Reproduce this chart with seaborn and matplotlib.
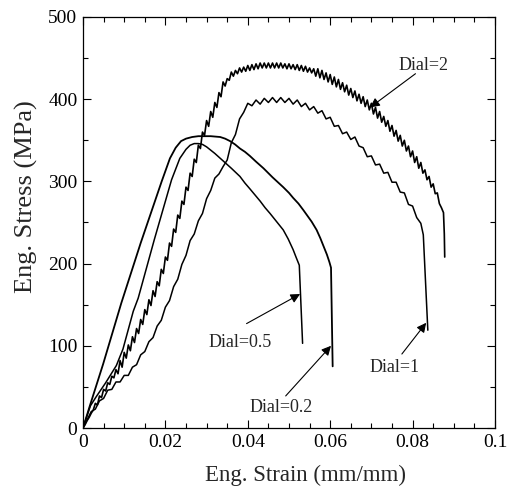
import matplotlib
matplotlib.use("Agg")
import matplotlib.pyplot as plt
from matplotlib.ticker import MultipleLocator
import seaborn as sns

# --- data (strain in mm/mm, stress in MPa) ---
strain_d02 = [0.0, 0.0016, 0.0049, 0.0093, 0.0140, 0.0191, 0.0211, 0.0225, 0.0238,
              0.025, 0.0265, 0.028, 0.031, 0.0333, 0.0345, 0.0357, 0.0369, 0.0381,
              0.0393, 0.0405, 0.042, 0.0438, 0.045, 0.046, 0.0473, 0.0486, 0.050,
              0.051, 0.0523, 0.0535, 0.0545, 0.0555, 0.0567, 0.0576, 0.0584, 0.0592,
              0.0598, 0.0602, 0.0606]
stress_d02 = [0, 26, 78, 152, 225, 300, 328, 341, 349,
              352, 354, 355, 355, 354, 352, 349, 345, 340,
              336, 331, 324, 316, 310, 305, 299, 293, 286,
              280, 273, 265, 258, 251, 241, 231, 221, 211,
              202, 195, 75]

strain_d05 = [0.0, 0.0018, 0.0032, 0.0055, 0.0081, 0.0097, 0.0122, 0.0134, 0.0173,
              0.0215, 0.0235, 0.025, 0.026, 0.027, 0.028, 0.029, 0.030, 0.032,
              0.034, 0.036, 0.0381, 0.0393, 0.0405, 0.042, 0.043, 0.0442, 0.0454,
              0.047, 0.0486, 0.0498, 0.051, 0.0517, 0.0525, 0.0533]
stress_d05 = [0, 27, 38, 55, 76, 96, 142, 158, 229,
              302, 328, 339, 344, 346, 346, 345, 342, 334,
              325, 316, 306, 298, 291, 282, 276, 268, 261,
              251, 241, 230, 217, 208, 198, 103]

strain_d1 = [0.000, 0.001, 0.002, 0.003, 0.004, 0.005, 0.006, 0.007, 0.008, 0.009,
             0.010, 0.011, 0.012, 0.013, 0.014, 0.015, 0.016, 0.017, 0.018, 0.019,
             0.020, 0.021, 0.022, 0.023, 0.024, 0.025, 0.026, 0.027, 0.028, 0.029,
             0.030, 0.031, 0.032, 0.033, 0.034, 0.035, 0.036, 0.037, 0.038, 0.039,
             0.040, 0.041, 0.042, 0.043, 0.044, 0.045, 0.046, 0.047, 0.048, 0.049,
             0.050, 0.051, 0.052, 0.053, 0.054, 0.055, 0.056, 0.057, 0.058, 0.059,
             0.060, 0.061, 0.062, 0.063, 0.064, 0.065, 0.066, 0.067, 0.068, 0.069,
             0.070, 0.071, 0.072, 0.073, 0.074, 0.075, 0.076, 0.077, 0.078, 0.079,
             0.080, 0.081, 0.082, 0.0826, 0.0837]
stress_d1 = [0, 10, 20, 23, 33, 36, 46, 47, 56, 56,
             64, 64, 74, 77, 89, 93, 105, 110, 124, 131,
             147, 155, 172, 181, 199, 210, 228, 236, 252, 261,
             279, 289, 304, 309, 318, 326, 347, 357, 376, 384,
             395, 392, 399, 394, 401, 396, 402, 396, 402, 396,
             401, 394, 399, 391, 395, 387, 391, 383, 386, 376,
             378, 367, 368, 358, 360, 351, 354, 343, 341, 330,
             331, 320, 321, 310, 311, 299, 299, 287, 286, 272,
             270, 256, 249, 235, 119]

strain_d2 = [0.0000, 0.0005, 0.0010, 0.0015, 0.0020, 0.0025, 0.0030, 0.0035, 0.0040, 0.0045,
             0.0050, 0.0055, 0.0060, 0.0065, 0.0070, 0.0075, 0.0080, 0.0085, 0.0090, 0.0095,
             0.0100, 0.0105, 0.0110, 0.0115, 0.0120, 0.0125, 0.0130, 0.0135, 0.0140, 0.0145,
             0.0150, 0.0155, 0.0160, 0.0165, 0.0170, 0.0175, 0.0180, 0.0185, 0.0190, 0.0195,
             0.0200, 0.0205, 0.0210, 0.0215, 0.0220, 0.0225, 0.0230, 0.0235, 0.0240, 0.0245,
             0.0250, 0.0255, 0.0260, 0.0265, 0.0270, 0.0275, 0.0280, 0.0285, 0.0290, 0.0295,
             0.0300, 0.0305, 0.0310, 0.0315, 0.0320, 0.0325, 0.0330, 0.0335, 0.0340, 0.0345,
             0.0350, 0.0355, 0.0360, 0.0365, 0.0370, 0.0375, 0.0380, 0.0385, 0.0390, 0.0395,
             0.0400, 0.0405, 0.0410, 0.0415, 0.0420, 0.0425, 0.0430, 0.0435, 0.0440, 0.0445,
             0.0450, 0.0455, 0.0460, 0.0465, 0.0470, 0.0475, 0.0480, 0.0485, 0.0490, 0.0495,
             0.0500, 0.0505, 0.0510, 0.0515, 0.0520, 0.0525, 0.0530, 0.0535, 0.0540, 0.0545,
             0.0550, 0.0555, 0.0560, 0.0565, 0.0570, 0.0575, 0.0580, 0.0585, 0.0590, 0.0595,
             0.0600, 0.0605, 0.0610, 0.0615, 0.0620, 0.0625, 0.0630, 0.0635, 0.0640, 0.0645,
             0.0650, 0.0655, 0.0660, 0.0665, 0.0670, 0.0675, 0.0680, 0.0685, 0.0690, 0.0695,
             0.0700, 0.0705, 0.0710, 0.0715, 0.0720, 0.0725, 0.0730, 0.0735, 0.0740, 0.0745,
             0.0750, 0.0755, 0.0760, 0.0765, 0.0770, 0.0775, 0.0780, 0.0785, 0.0790, 0.0795,
             0.0800, 0.0805, 0.0810, 0.0815, 0.0820, 0.0825, 0.0830, 0.0835, 0.0840, 0.0845,
             0.0850, 0.0855, 0.0860, 0.0865, 0.0870, 0.0875, 0.0877, 0.0878]
stress_d2 = [0, 4, 9, 13, 18, 22, 30, 28, 39, 37,
             47, 45, 55, 53, 63, 61, 71, 66, 82, 74,
             92, 85, 101, 94, 111, 104, 121, 115, 132, 126,
             144, 138, 156, 149, 167, 160, 178, 173, 193, 188,
             208, 204, 225, 221, 242, 238, 259, 255, 276, 272,
             293, 289, 310, 306, 327, 323, 344, 340, 360, 356,
             374, 367, 385, 378, 396, 390, 408, 403, 421, 416,
             425, 423, 433, 428, 435, 431, 438, 433, 439, 434,
             441, 435, 442, 436, 443, 437, 444, 438, 444, 438,
             444, 438, 444, 438, 444, 438, 444, 438, 443, 437,
             443, 437, 442, 436, 442, 435, 441, 434, 440, 433,
             438, 432, 437, 428, 437, 426, 435, 424, 432, 421,
             430, 418, 427, 415, 424, 412, 420, 409, 417, 405,
             413, 402, 410, 398, 406, 395, 403, 391, 399, 387,
             395, 382, 390, 377, 385, 372, 379, 367, 374, 361,
             368, 355, 362, 349, 356, 343, 350, 337, 343, 330,
             337, 323, 330, 316, 323, 310, 314, 302, 306, 293,
             297, 285, 286, 273, 268, 262, 236, 208]

# label, text anchor (baseline centre), arrow tail, arrow tip
notes = [
    ("Dial=2", (0.0827, 435), (0.0807, 431), (0.0697, 390)),
    ("Dial=0.5", (0.0381, 98), (0.0397, 127), (0.0527, 163)),
    ("Dial=0.2", (0.0482, 19), (0.0492, 39), (0.0602, 100)),
    ("Dial=1", (0.0757, 68), (0.0774, 90), (0.0833, 128)),
]

sns.set_style("ticks")
plt.rcParams["font.family"] = ["Liberation Serif", "DejaVu Serif"]

fig = plt.figure(figsize=(5.07, 4.91), dpi=100)
ax = fig.add_axes([0.1637, 0.1283, 0.9763 - 0.1637, 0.9654 - 0.1283])

for sx, sy, lw in [(strain_d02, stress_d02, 1.3), (strain_d05, stress_d05, 1.1),
                   (strain_d1, stress_d1, 1.1), (strain_d2, stress_d2, 1.2)]:
    sns.lineplot(x=sx, y=sy, color="black", lw=lw, estimator=None, sort=False, ax=ax)

for label, txt, tail, tip in notes:
    ax.text(txt[0], txt[1], label, fontsize=13, ha="center", va="baseline")
    ax.annotate("", xy=tip, xytext=tail,
                arrowprops=dict(arrowstyle="-|>", color="black", lw=0.8,
                                mutation_scale=14, shrinkA=0, shrinkB=0))

ax.set_xlim(0, 0.1)
ax.set_ylim(0, 500)
ax.xaxis.set_major_locator(MultipleLocator(0.02))
ax.xaxis.set_minor_locator(MultipleLocator(0.005))
ax.yaxis.set_major_locator(MultipleLocator(100))
ax.yaxis.set_minor_locator(MultipleLocator(50))
ax.set_xticks([0, 0.02, 0.04, 0.06, 0.08, 0.1])
ax.set_xticklabels(["0", "0.02", "0.04", "0.06", "0.08", "0.1"])
ax.tick_params(which="both", direction="in", top=True, right=True,
               labelsize=14, width=0.8, colors="black")
ax.tick_params(which="major", length=6, pad=4)
ax.tick_params(which="minor", length=3.5)
for s in ax.spines.values():
    s.set_linewidth(0.9)
    s.set_color("black")

# the labels sit off-centre in the original
ax.set_xlabel("Eng. Strain (mm/mm)", fontsize=16.5)
ax.set_ylabel("Eng. Stress (MPa)", fontsize=19)
ax.xaxis.set_label_coords(0.541, -0.090)
ax.yaxis.set_label_coords(-0.109, 0.563)

fig.savefig("out.png", dpi=100)
